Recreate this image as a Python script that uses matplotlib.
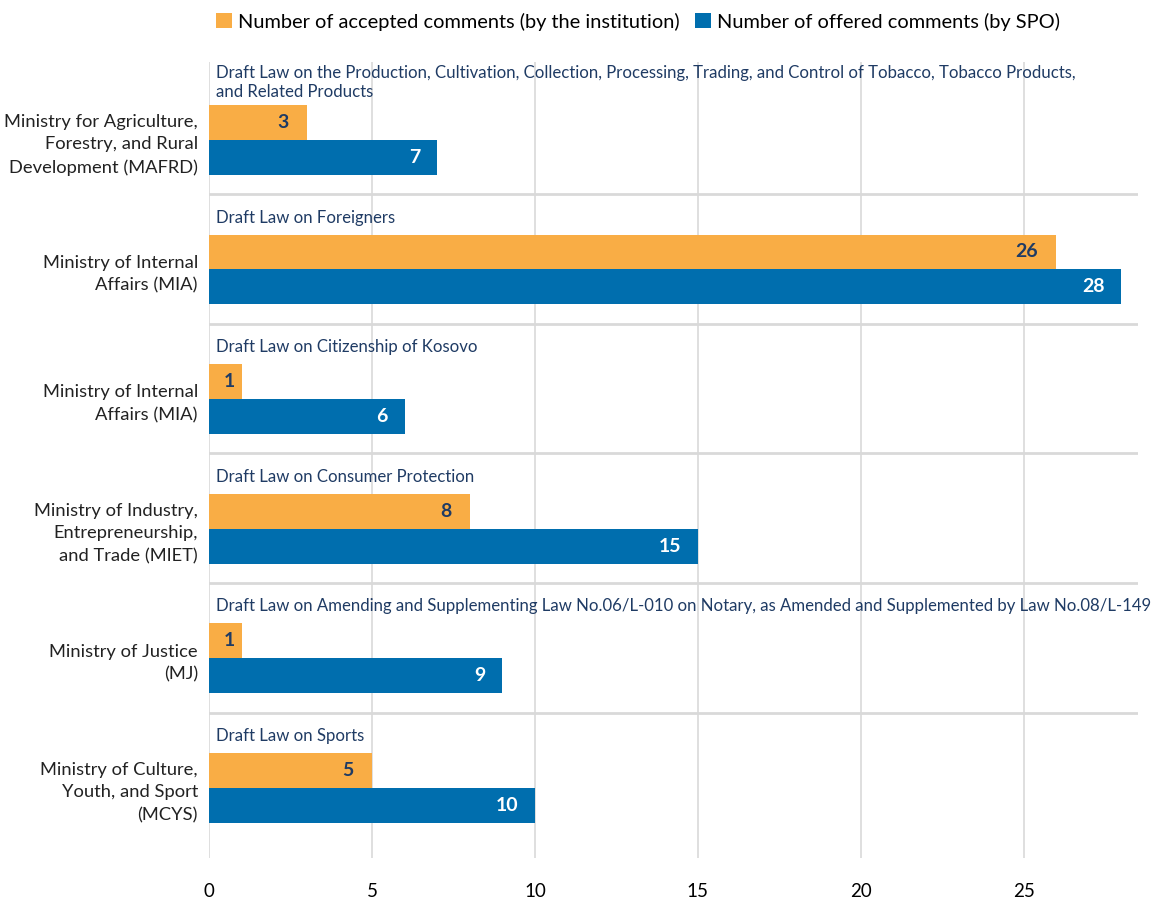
import numpy as np
import matplotlib.pyplot as plt

plt.rcParams['font.family'] = ['Lato', 'DejaVu Sans']

# ministries (y tick labels) and the draft laws above each group
ministries = [
    'Ministry for Agriculture,\nForestry, and Rural\nDevelopment (MAFRD)',
    'Ministry of Internal\nAffairs (MIA)',
    'Ministry of Internal\nAffairs (MIA)',
    'Ministry of Industry,\nEntrepreneurship,\nand Trade (MIET)',
    'Ministry of Justice\n(MJ)',
    'Ministry of Culture,\nYouth, and Sport\n(MCYS)',
]
laws = [
    'Draft Law on the Production, Cultivation, Collection, Processing, Trading, and Control of Tobacco, Tobacco Products,\nand Related Products',
    'Draft Law on Foreigners',
    'Draft Law on Citizenship of Kosovo',
    'Draft Law on Consumer Protection',
    'Draft Law on Amending and Supplementing Law No.06/L-010 on Notary, as Amended and Supplemented by Law No.08/L-149',
    'Draft Law on Sports',
]
accepted = [3, 26, 1, 8, 1, 5]
offered = [7, 28, 6, 15, 9, 10]

orange = '#F9AD45'
blue = '#006EAE'
navy = '#1F3B64'

fig = plt.figure(figsize=(11.55, 9.01), dpi=100)
ax = fig.add_axes([0.181, 0.048, 0.804, 0.883])

y = np.arange(len(ministries))
h = 0.27
y_acc = y + 0.445
y_off = y + 0.715

ax.barh(y_acc, accepted, height=h, color=orange, zorder=3,
        label='Number of accepted comments (by the institution)')
ax.barh(y_off, offered, height=h, color=blue, zorder=3,
        label='Number of offered comments (by SPO)')

for yy, v in zip(y_acc, accepted):
    if v < 2:
        ax.annotate(str(v), (v / 2, yy), xytext=(3, 0), textcoords='offset points',
                    ha='center', va='center', color=navy, fontsize=14, fontweight='bold', zorder=4)
    else:
        ax.annotate(str(v), (v, yy), xytext=(-13, 0), textcoords='offset points',
                    ha='right', va='center', color=navy, fontsize=14, fontweight='bold', zorder=4)
for yy, v in zip(y_off, offered):
    ax.annotate(str(v), (v, yy), xytext=(-12, 0), textcoords='offset points',
                ha='right', va='center', color='white', fontsize=14, fontweight='bold', zorder=4)

for i, law in enumerate(laws):
    two = '\n' in law
    ty = i + (0.0 if two else 0.18)
    ax.text(0.2, ty, law, ha='left', va='top' if two else 'center',
            color=navy, fontsize=12.1, linespacing=1.25, zorder=4)

for i in range(1, len(ministries)):
    ax.axhline(i, color='#d9d9d9', lw=2, zorder=2)

ax.set_yticks(y + 0.58)
ax.set_yticklabels(ministries, fontsize=13.2, color='#222222', linespacing=1.5)
ax.set_ylim(6.12, -0.02)
ax.set_xlim(0, 28.5)
ax.set_xticks([0, 5, 10, 15, 20, 25])
ax.tick_params(axis='x', length=0, labelsize=13.5, pad=18)
ax.tick_params(axis='y', length=0, pad=8)
ax.grid(axis='x', color='#d9d9d9', lw=1.2, zorder=0)
for s in ax.spines.values():
    s.set_visible(False)

ax.legend(loc='upper center', bbox_to_anchor=(0.462, 1.085), ncol=2, frameon=False,
          fontsize=14.4, handlelength=0.8, handleheight=0.8, handletextpad=0.3,
          columnspacing=0.8)

fig.savefig('out.png', dpi=100)
